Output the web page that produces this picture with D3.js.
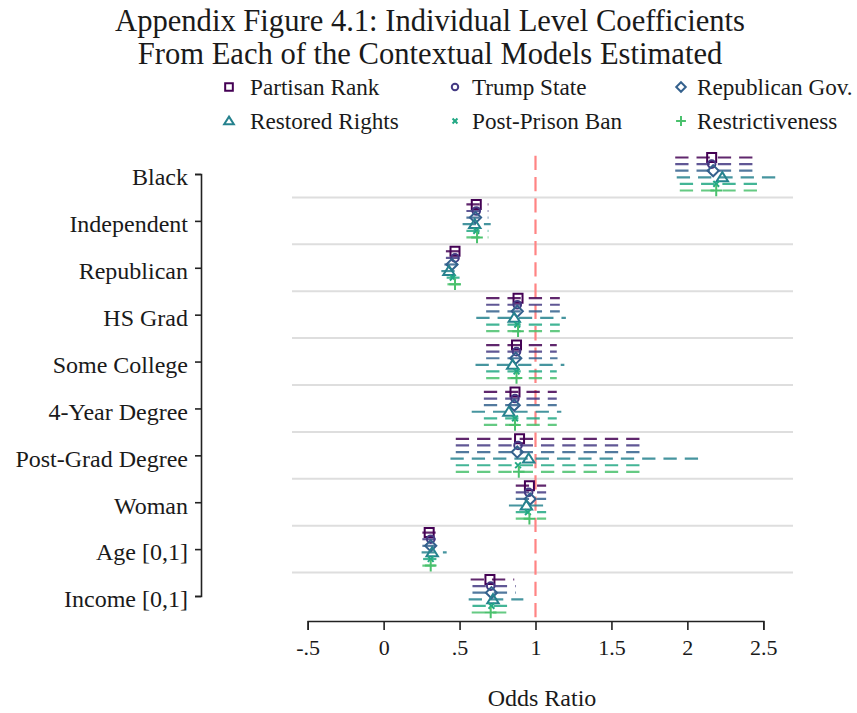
<!DOCTYPE html>
<html>
<head>
<meta charset="utf-8">
<script src="https://cdn.jsdelivr.net/npm/d3@7"></script>
<style>
  html, body { margin: 0; padding: 0; background: #fff; }
  svg { display: block; }
  text { font-family: "Liberation Serif", "Times New Roman", serif; fill: #1a1a1a; }
</style>
</head>
<body>
<svg id="chart" width="857" height="713"></svg>
<script>
// ---------------- data ----------------
const categories = ["Black", "Independent", "Republican", "HS Grad", "Some College",
  "4-Year Degree", "Post-Grad Degree", "Woman", "Age [0,1]", "Income [0,1]"];

const seriesNames = ["Partisan Rank", "Trump State", "Republican Gov.",
  "Restored Rights", "Post-Prison Ban", "Restrictiveness"];

// point estimates (odds ratios), one array per model
const estPartisan = [2.16, 0.61, 0.47, 0.885, 0.875, 0.865, 0.895, 0.96, 0.30, 0.70];
const estTrump    = [2.16, 0.61, 0.47, 0.880, 0.875, 0.865, 0.885, 0.955, 0.31, 0.705];
const estRepGov   = [2.17, 0.605, 0.45, 0.880, 0.870, 0.860, 0.880, 0.965, 0.31, 0.71];
const estRestored = [2.23, 0.60, 0.43, 0.860, 0.850, 0.825, 0.955, 0.94, 0.32, 0.72];
const estPostBan  = [2.19, 0.61, 0.455, 0.880, 0.875, 0.865, 0.885, 0.95, 0.31, 0.71];
const estRestrict = [2.19, 0.615, 0.47, 0.885, 0.875, 0.865, 0.890, 0.96, 0.31, 0.705];

// lower CI bounds
const loPartisan = [1.92, 0.545, 0.41, 0.675, 0.675, 0.66, 0.475, 0.87, 0.255, 0.573];
const loTrump    = [1.92, 0.545, 0.41, 0.675, 0.675, 0.66, 0.475, 0.87, 0.255, 0.585];
const loRepGov   = [1.92, 0.545, 0.40, 0.675, 0.675, 0.66, 0.475, 0.87, 0.255, 0.585];
const loRestored = [1.93, 0.52, 0.38, 0.61, 0.605, 0.58, 0.44, 0.825, 0.25, 0.56];
const loPostBan  = [1.95, 0.545, 0.415, 0.675, 0.675, 0.66, 0.475, 0.87, 0.26, 0.585];
const loRestrict = [1.95, 0.545, 0.42, 0.675, 0.675, 0.66, 0.475, 0.87, 0.255, 0.58];

// upper CI bounds
const hiPartisan = [2.43, 0.69, 0.50, 1.16, 1.14, 1.14, 1.69, 1.07, 0.35, 0.86];
const hiTrump    = [2.43, 0.69, 0.50, 1.16, 1.14, 1.14, 1.69, 1.07, 0.35, 0.87];
const hiRepGov   = [2.43, 0.69, 0.50, 1.16, 1.145, 1.14, 1.685, 1.07, 0.36, 0.87];
const hiRestored = [2.59, 0.705, 0.49, 1.20, 1.19, 1.17, 2.08, 1.05, 0.415, 0.92];
const hiPostBan  = [2.46, 0.69, 0.50, 1.16, 1.14, 1.14, 1.69, 1.07, 0.35, 0.86];
const hiRestrict = [2.46, 0.69, 0.51, 1.16, 1.14, 1.14, 1.69, 1.07, 0.35, 0.86];

const xTicks = [-0.5, 0, 0.5, 1, 1.5, 2, 2.5];
const xTickLabels = ["-.5", "0", ".5", "1", "1.5", "2", "2.5"];
const refValue = 1;

const titleLines = ["Appendix Figure 4.1: Individual Level Coefficients",
  "From Each of the Contextual Models Estimated"];
const xTitle = "Odds Ratio";

// ---------------- styles ----------------
const colors = ["#440154", "#443a83", "#34618d", "#26828e", "#22a884", "#4ac16d"];
const shapes = ["square", "circle", "diamond", "triangle", "x", "plus"];

const ests = [estPartisan, estTrump, estRepGov, estRestored, estPostBan, estRestrict];
const los  = [loPartisan, loTrump, loRepGov, loRestored, loPostBan, loRestrict];
const his  = [hiPartisan, hiTrump, hiRepGov, hiRestored, hiPostBan, hiRestrict];

const series = seriesNames.map((name, i) => ({
  name, color: colors[i], shape: shapes[i],
  values: categories.map((c, j) => ({ cat: c, est: ests[i][j], lo: los[i][j], hi: his[i][j] }))
}));

// ---------------- layout ----------------
const svg = d3.select("#chart");

const x = d3.scaleLinear().domain([-0.5, 2.5]).range([307.7, 763.3]);
const y = d3.scalePoint().domain(categories).range([174, 596]);
const off = d3.scalePoint().domain(d3.range(series.length)).range([-16.5, 16.5]);

function shapePath(shape, s) {
  switch (shape) {
    case "square": return `M${-s},${-s}H${s}V${s}H${-s}Z`;
    case "circle": return `M${s},0A${s},${s} 0 1,1 ${-s},0A${s},${s} 0 1,1 ${s},0Z`;
    case "diamond": { const d = s * 1.3; return `M0,${-d}L${d},0L0,${d}L${-d},0Z`; }
    case "triangle": { const h = s * 1.15; return `M0,${-h}L${h * 1.1},${h * 0.75}L${-h * 1.1},${h * 0.75}Z`; }
    case "x": { const d = s * 0.72; return `M${-d},${-d}L${d},${d}M${-d},${d}L${d},${-d}`; }
    case "plus": { const d = s * 1.35; return `M${-d},0H${d}M0,${-d}V${d}`; }
  }
}
const markerSize = { square: 4.5, circle: 3.8, diamond: 4.3, triangle: 4.5, x: 4, plus: 4.3 };

// gridlines between categories
const cats = categories;
const mids = d3.range(cats.length - 1).map(i => (y(cats[i]) + y(cats[i + 1])) / 2);
svg.append("g").selectAll("line").data(mids).join("line")
  .attr("x1", 292).attr("x2", 793)
  .attr("y1", d => d).attr("y2", d => d)
  .attr("stroke", "#dedede").attr("stroke-width", 2);

// reference line
svg.append("line")
  .attr("x1", x(refValue)).attr("x2", x(refValue))
  .attr("y1", 155.7).attr("y2", 621)
  .attr("stroke", "#ff8484").attr("stroke-width", 2.2)
  .attr("stroke-dasharray", "14.3,7");

// x axis
const xAxis = d3.axisBottom(x).tickValues(xTicks)
  .tickFormat((d, i) => xTickLabels[i]).tickSizeOuter(0).tickSize(9).tickPadding(9);
const gx = svg.append("g").attr("transform", "translate(0,621)").call(xAxis);
gx.select(".domain").attr("stroke", "#222").attr("stroke-width", 1.6);
gx.selectAll(".tick line").attr("stroke", "#222").attr("stroke-width", 1.6);
gx.selectAll(".tick text").style("font-family", "Liberation Serif").style("font-size", "22px").attr("fill", "#1a1a1a");

// y axis
const yAxis = d3.axisLeft(y).tickSizeOuter(0).tickSize(6).tickPadding(7);
const gy = svg.append("g").attr("transform", "translate(201,0)").call(yAxis);
gy.select(".domain").attr("stroke", "#222").attr("stroke-width", 1.6);
gy.selectAll(".tick line").attr("stroke", "#222").attr("stroke-width", 1.6);
gy.selectAll(".tick text").style("font-family", "Liberation Serif").style("font-size", "24px")
  .attr("fill", "#1a1a1a").attr("dy", "0.45em");

// CI lines
const plot = svg.append("g");
series.forEach((s, i) => {
  plot.append("g").selectAll("line").data(s.values).join("line")
    .attr("x1", d => x(d.lo)).attr("x2", d => x(d.hi))
    .attr("y1", d => y(d.cat) + off(i)).attr("y2", d => y(d.cat) + off(i))
    .attr("stroke", s.color).attr("stroke-width", 2.2).attr("stroke-opacity", 0.85)
    .attr("stroke-dasharray", "13.3,8");
});
// markers
series.forEach((s, i) => {
  plot.append("g").selectAll("path").data(s.values).join("path")
    .attr("transform", d => `translate(${x(d.est)},${y(d.cat) + off(i)})`)
    .attr("d", shapePath(s.shape, markerSize[s.shape]))
    .attr("fill", "none").attr("stroke", s.color).attr("stroke-width", 2);
});

// title
svg.append("g").selectAll("text").data(titleLines).join("text")
  .attr("x", 430).attr("y", (d, i) => 31 + i * 33)
  .attr("text-anchor", "middle").style("font-size", "30.6px").text(d => d);

// legend
const legX = [229, 455, 681];
const legTextX = [250, 472, 697];
const legY = [87, 121];
const leg = svg.append("g");
series.forEach((s, i) => {
  const col = i % 3, row = Math.floor(i / 3);
  leg.append("path")
    .attr("transform", `translate(${legX[col]},${legY[row]})`)
    .attr("d", shapePath(s.shape, markerSize[s.shape] * 0.85))
    .attr("fill", "none").attr("stroke", s.color).attr("stroke-width", 2);
  leg.append("text").attr("x", legTextX[col]).attr("y", legY[row] + 7.5)
    .style("font-size", "23.2px").text(s.name);
});

// x title
svg.append("text").attr("x", 542).attr("y", 706).attr("text-anchor", "middle")
  .style("font-size", "24px").text(xTitle);
</script>
</body>
</html>
